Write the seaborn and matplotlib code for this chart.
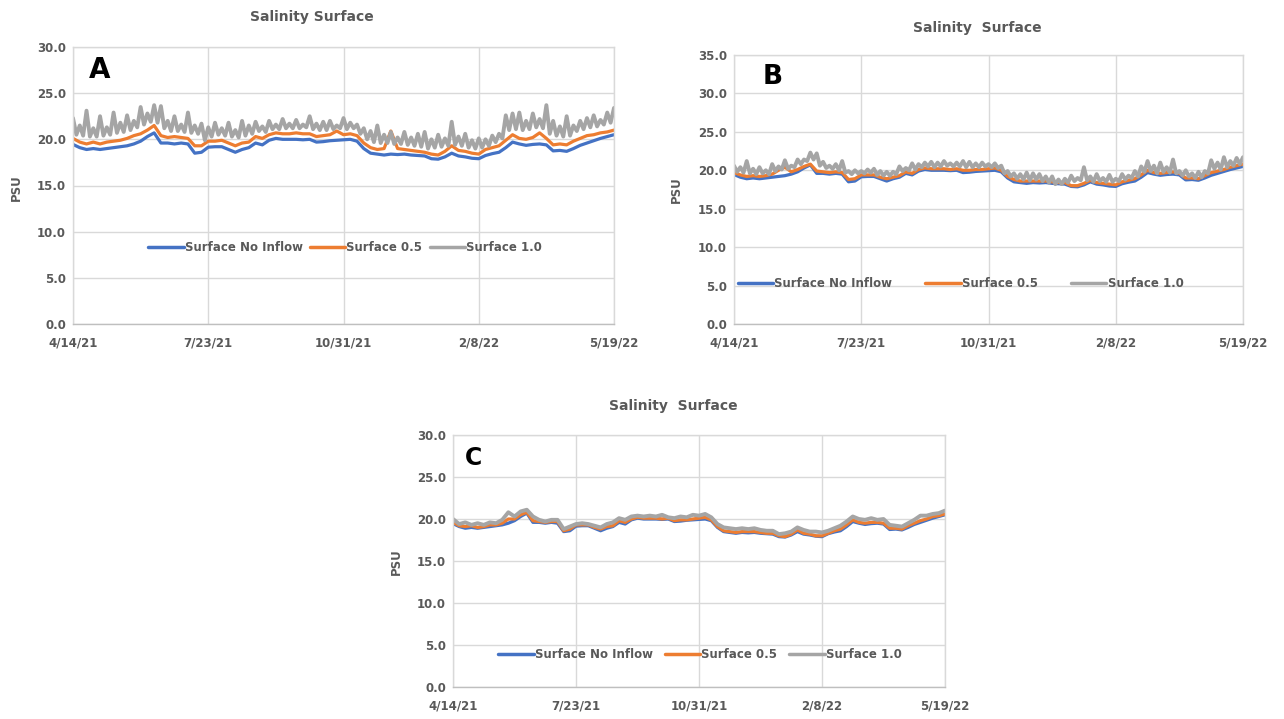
import matplotlib
matplotlib.use("Agg")
import matplotlib.pyplot as plt
import seaborn as sns
import pandas as pd
import numpy as np

# ---------------- data ----------------
tick_labels = ["4/14/21", "7/23/21", "10/31/21", "2/8/22", "5/19/22"]
tick_days = [0, 100, 200, 300, 400]
days = list(range(0, 401, 5))                 # 5-day sampling
days_fine = list(np.arange(0, 400.1, 2.5))    # 2.5-day sampling

no_inflow = [19.45, 19.1, 18.9, 19.0, 18.9, 19.0, 19.1, 19.2, 19.3, 19.5,
             19.8, 20.3, 20.7, 19.6, 19.6, 19.5, 19.6, 19.5, 18.5, 18.6,
             19.15, 19.2, 19.2, 18.9, 18.6, 18.9, 19.1, 19.6, 19.4, 19.9,
             20.1, 20.0, 20.0, 20.0, 19.95, 20.0, 19.7, 19.75, 19.85, 19.9,
             19.95, 20.0, 19.8, 19.0, 18.5, 18.4, 18.3, 18.4, 18.35, 18.4,
             18.3, 18.25, 18.2, 17.9, 17.85, 18.1, 18.5, 18.2, 18.1, 17.95,
             17.9, 18.25, 18.45, 18.6, 19.1, 19.7, 19.5, 19.35, 19.45, 19.5,
             19.4, 18.75, 18.8, 18.7, 19.0, 19.35, 19.6, 19.85, 20.1, 20.3,
             20.5]

a_half = [20.1, 19.7, 19.5, 19.7, 19.5, 19.7, 19.8, 19.9, 20.1, 20.4,
          20.6, 21.0, 21.5, 20.4, 20.2, 20.3, 20.2, 20.1, 19.3, 19.3,
          19.8, 19.8, 19.9, 19.6, 19.3, 19.6, 19.7, 20.3, 20.1, 20.5,
          20.7, 20.6, 20.6, 20.7, 20.6, 20.6, 20.3, 20.4, 20.5, 20.9,
          20.5, 20.6, 20.4, 19.6, 19.1, 18.9, 19.0, 20.9, 19.0, 18.9,
          18.8, 18.7, 18.6, 18.4, 18.3, 18.7, 19.3, 18.8, 18.7, 18.5,
          18.4, 18.9, 19.1, 19.3, 19.9, 20.5, 20.1, 20.0, 20.2, 20.7,
          20.1, 19.4, 19.5, 19.4, 19.8, 20.1, 20.4, 20.5, 20.7, 20.8,
          21.0]

a_one = [22.3, 20.5, 21.5, 20.4, 23.1, 20.3, 21.2, 20.3, 22.5, 20.4,
         21.3, 20.5, 22.9, 20.7, 21.8, 20.8, 22.6, 21.0, 22.0, 21.3,
         23.5, 21.6, 22.8, 21.9, 23.7, 21.8, 23.6, 21.2, 22.0, 20.9,
         22.5, 20.9, 21.6, 20.8, 22.9, 20.7, 21.5, 20.6, 21.7, 19.9,
         21.3, 20.3, 21.8, 20.5, 21.2, 20.4, 21.8, 20.3, 21.0, 20.2,
         22.0, 20.4, 21.5, 20.6, 21.9, 20.9, 21.4, 20.8, 22.0, 21.1,
         21.6, 21.1, 22.2, 21.2, 21.7, 21.2, 22.1, 21.2, 21.6, 21.3,
         22.5, 21.1, 21.7, 21.0, 21.9, 21.0, 22.0, 21.1, 21.5, 21.2,
         22.3, 21.1, 21.8, 21.2, 21.6, 20.6, 21.2, 20.0, 20.9, 19.7,
         21.5, 19.6, 20.5, 19.6, 20.8, 19.5, 20.2, 19.5, 20.8, 19.4,
         20.2, 19.3, 20.6, 19.2, 20.8, 19.0, 20.0, 19.1, 20.5, 19.2,
         20.1, 19.3, 21.9, 19.4, 20.3, 19.3, 20.6, 19.1, 19.9, 19.0,
         20.1, 19.1, 20.0, 19.3, 20.4, 19.7, 20.6, 20.1, 22.6, 21.0,
         22.8, 21.1, 22.9, 21.0, 22.0, 21.1, 22.8, 21.3, 22.2, 21.2,
         23.7, 20.6, 22.0, 20.4, 21.4, 20.3, 22.5, 20.4, 21.5, 20.9,
         22.0, 21.1, 22.3, 21.3, 22.6, 21.4, 22.1, 21.6, 22.9, 21.8,
         23.4]

b_half = [19.7, 19.4, 19.2, 19.3, 19.2, 19.3, 19.5, 20.0, 20.4, 19.8,
          20.1, 20.5, 20.8, 19.9, 19.8, 19.7, 19.8, 19.7, 18.8, 18.9,
          19.4, 19.4, 19.4, 19.1, 18.9, 19.1, 19.3, 19.8, 19.6, 20.1,
          20.3, 20.2, 20.2, 20.2, 20.1, 20.2, 20.0, 20.0, 20.1, 20.1,
          20.2, 20.3, 20.0, 19.2, 18.8, 18.6, 18.6, 18.6, 18.6, 18.6,
          18.5, 18.4, 18.4, 18.0, 18.0, 18.3, 18.7, 18.4, 18.3, 18.2,
          18.1, 18.5, 18.7, 18.9, 19.4, 20.0, 19.7, 19.6, 19.7, 19.8,
          19.6, 19.0, 19.0, 18.9, 19.3, 19.7, 19.9, 20.1, 20.4, 20.6,
          20.8]

b_one = [20.6, 19.8, 20.4, 19.7, 21.2, 19.6, 20.2, 19.5, 20.4, 19.6,
         20.0, 19.5, 20.8, 19.9, 20.5, 20.1, 21.3, 20.2, 20.6, 20.4,
         21.4, 20.8, 21.4, 21.2, 22.3, 21.4, 22.2, 20.6, 21.1, 20.3,
         20.6, 20.2, 20.8, 20.0, 21.2, 19.7, 19.9, 19.5, 20.0, 19.6,
         19.9, 19.6, 20.1, 19.7, 20.2, 19.4, 19.9, 19.3, 19.8, 19.3,
         19.8, 19.5, 20.5, 19.9, 20.3, 20.0, 20.9, 20.1, 20.8, 20.4,
         21.0, 20.5, 21.1, 20.4, 21.0, 20.5, 21.2, 20.6, 20.9, 20.5,
         21.0, 20.5, 21.2, 20.4, 21.1, 20.4, 20.9, 20.4, 21.0, 20.5,
         20.8, 20.4, 20.9, 20.3, 20.6, 19.6, 19.9, 19.2, 19.6, 18.9,
         19.5, 18.8, 19.7, 18.7, 19.6, 18.8, 19.5, 18.6, 19.2, 18.4,
         19.2, 18.2, 18.8, 18.2, 18.9, 18.4, 19.3, 18.6, 19.0, 18.7,
         20.4, 18.7, 19.2, 18.5, 19.5, 18.6, 19.0, 18.5, 19.4, 18.5,
         18.9, 18.6, 19.5, 18.8, 19.3, 19.0, 19.9, 19.2, 20.5, 19.8,
         21.2, 19.9, 20.6, 19.6, 21.0, 19.8, 20.4, 19.7, 21.4, 19.6,
         19.9, 19.3, 20.0, 19.2, 19.6, 19.0, 19.8, 19.1, 19.9, 19.6,
         21.3, 20.2, 21.0, 20.1, 21.7, 20.4, 21.2, 20.6, 21.6, 20.8,
         21.7]

c_half = [19.6, 19.2, 19.1, 19.2, 19.0, 19.1, 19.3, 19.3, 19.5, 20.0,
          20.0, 20.5, 20.8, 19.8, 19.7, 19.6, 19.7, 19.7, 18.6, 18.8,
          19.3, 19.3, 19.3, 19.0, 18.8, 19.1, 19.2, 19.8, 19.6, 20.0,
          20.2, 20.1, 20.1, 20.1, 20.0, 20.1, 19.8, 19.9, 19.9, 20.0,
          20.1, 20.2, 19.9, 19.1, 18.6, 18.5, 18.4, 18.5, 18.5, 18.5,
          18.4, 18.3, 18.3, 18.0, 17.9, 18.2, 18.7, 18.3, 18.2, 18.0,
          18.0, 18.3, 18.6, 18.8, 19.3, 19.9, 19.6, 19.5, 19.6, 19.6,
          19.5, 18.9, 18.9, 18.8, 19.2, 19.5, 19.8, 20.0, 20.3, 20.4,
          20.6]

c_one = [20.0, 19.4, 19.6, 19.3, 19.5, 19.3, 19.6, 19.5, 19.9, 20.8,
         20.3, 20.9, 21.1, 20.3, 19.9, 19.7, 19.9, 19.9, 18.8, 19.1,
         19.4, 19.5, 19.4, 19.2, 19.0, 19.4, 19.6, 20.1, 19.9, 20.3,
         20.4, 20.3, 20.4, 20.3, 20.5, 20.2, 20.1, 20.3, 20.2, 20.5,
         20.4, 20.6, 20.2, 19.4, 19.0, 18.9, 18.8, 18.9, 18.8, 18.9,
         18.7, 18.6, 18.6, 18.2, 18.3, 18.5, 19.0, 18.7, 18.5, 18.5,
         18.4, 18.6, 18.9, 19.2, 19.7, 20.3, 20.0, 19.9, 20.1, 19.9,
         20.0, 19.3, 19.2, 19.1, 19.5, 19.9, 20.4, 20.4, 20.6, 20.7,
         21.0]

series_names = ["Surface No Inflow", "Surface 0.5", "Surface 1.0"]
colors = ["#4472C4", "#ED7D31", "#A5A5A5"]
widths = [2.3, 2.3, 2.8]

# ---------------- style ----------------
sns.set_theme(style="white")
plt.rcParams["font.family"] = ["Liberation Sans Narrow", "DejaVu Sans"]
txt_col = "#595959"
grid_col = "#D9D9D9"

fig = plt.figure(figsize=(12.84, 7.19), dpi=100)

W, H = 1284, 719
def axes_px(l, t, r, b):
    return fig.add_axes([l / W, 1 - b / H, (r - l) / W, (b - t) / H])

panels = [
    dict(box=(73, 47, 614, 324), ymax=30,
         data=[(days, no_inflow), (days, a_half), (days_fine, a_one)],
         letter="A", lpos=(100, 70), lsize=20,
         title="Salinity Surface", tpos=(312, 17),
         psu=(16, 188), leg=(0.503, 0.275), colsp=0.6),
    dict(box=(734, 55, 1243, 324), ymax=35,
         data=[(days, no_inflow), (days, b_half), (days_fine, b_one)],
         letter="B", lpos=(773, 77), lsize=19,
         title="Salinity  Surface", tpos=(977, 28),
         psu=(676, 190), leg=(0.445, 0.149), colsp=2.8),
    dict(box=(453, 435, 945, 687), ymax=30,
         data=[(days, no_inflow), (days, c_half), (days, c_one)],
         letter="C", lpos=(474, 458), lsize=17,
         title="Salinity  Surface", tpos=(673, 406),
         psu=(396, 562), leg=(0.502, 0.127), colsp=1.0),
]

for p in panels:
    ax = axes_px(*p["box"])
    for (xs, vals), name, col, lw in zip(p["data"], series_names, colors, widths):
        df = pd.DataFrame({"day": xs, "psu": vals})
        sns.lineplot(data=df, x="day", y="psu", ax=ax, color=col,
                     linewidth=lw, label=name, estimator=None)
    ax.set_xlim(tick_days[0], tick_days[-1])
    ax.set_ylim(0, p["ymax"])
    ax.set_xticks(tick_days)
    ax.set_xticklabels(tick_labels)
    yt = np.arange(0, p["ymax"] + 0.1, 5)
    ax.set_yticks(yt)
    ax.set_yticklabels([f"{v:.1f}" for v in yt])
    ax.tick_params(axis="both", length=0, labelsize=8.5, labelcolor=txt_col)
    ax.tick_params(axis="x", pad=9)
    ax.tick_params(axis="y", pad=5)
    for lab in ax.get_xticklabels() + ax.get_yticklabels():
        lab.set_fontweight("bold")
    ax.grid(True, color=grid_col, linewidth=1.0)
    ax.set_axisbelow(True)
    for s in ax.spines.values():
        s.set_color(grid_col)
        s.set_linewidth(1.0)
    ax.spines["bottom"].set_color("#BFBFBF")
    ax.set_xlabel("")
    ax.set_ylabel("")
    leg = ax.legend(loc="center", bbox_to_anchor=p["leg"], ncol=3,
                    frameon=False, handlelength=3.0, handletextpad=0.1,
                    columnspacing=p["colsp"],
                    prop={"size": 8.5, "weight": "bold"})
    for t in leg.get_texts():
        t.set_color(txt_col)
    for h in leg.get_lines():
        h.set_linewidth(2.5)
    fig.text(p["lpos"][0] / W, 1 - p["lpos"][1] / H, p["letter"],
             fontsize=p["lsize"], fontweight="bold", color="black",
             ha="center", va="center")
    fig.text(p["tpos"][0] / W, 1 - p["tpos"][1] / H, p["title"],
             fontsize=10, fontweight="bold", color=txt_col,
             ha="center", va="center")
    fig.text(p["psu"][0] / W, 1 - p["psu"][1] / H, "PSU", rotation=90,
             fontsize=8.5, fontweight="bold", color=txt_col,
             ha="center", va="center")

fig.savefig("out.png", dpi=100, facecolor="white")
